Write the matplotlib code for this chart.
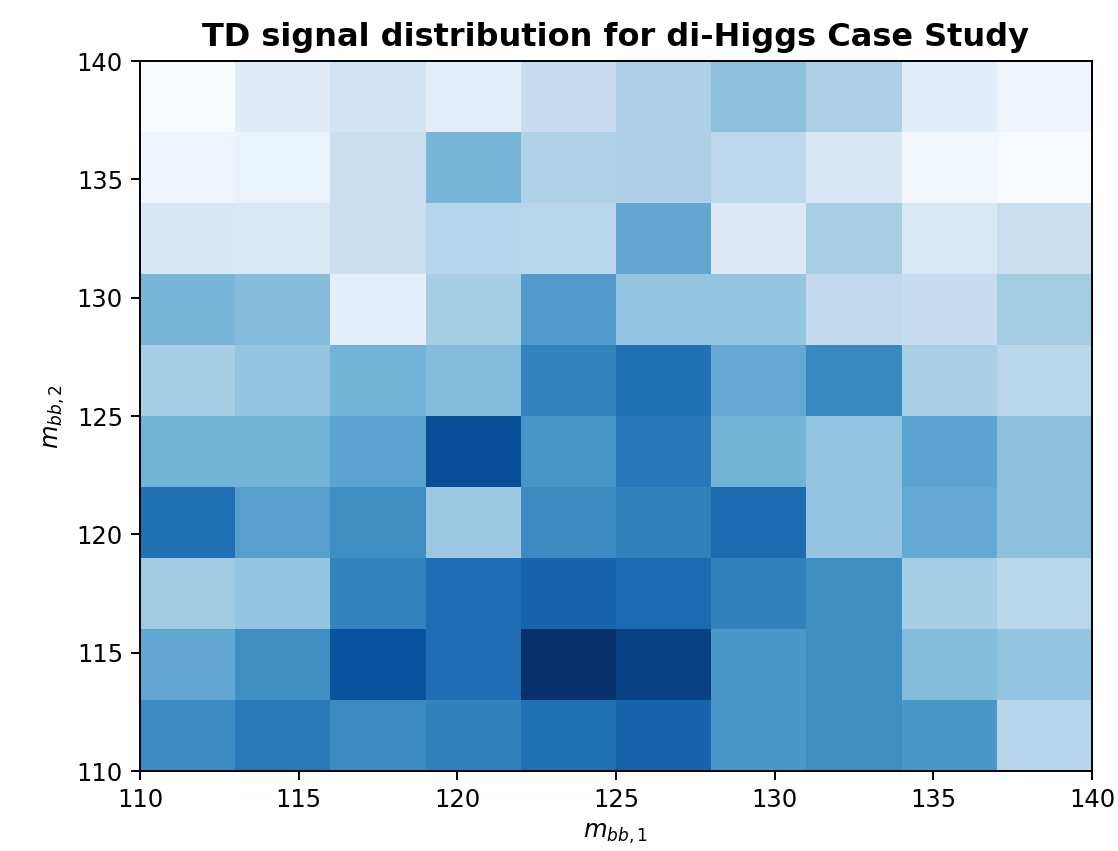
import matplotlib.pyplot as plt
import numpy as np

# bin edges for both masses
bin_edges = [110, 113, 116, 119, 122, 125, 128, 131, 134, 137, 140]

# relative signal density, rows from m_bb,2 = 110 (bottom) to 140 (top)
density = [
    [0.65, 0.72, 0.65, 0.69, 0.75, 0.80, 0.60, 0.64, 0.60, 0.30],
    [0.53, 0.64, 0.87, 0.76, 1.00, 0.93, 0.60, 0.64, 0.44, 0.40],
    [0.37, 0.40, 0.68, 0.76, 0.80, 0.77, 0.69, 0.64, 0.35, 0.29],
    [0.75, 0.56, 0.64, 0.38, 0.65, 0.69, 0.77, 0.40, 0.52, 0.42],
    [0.48, 0.48, 0.55, 0.88, 0.61, 0.73, 0.48, 0.40, 0.55, 0.42],
    [0.35, 0.40, 0.48, 0.44, 0.68, 0.75, 0.52, 0.66, 0.34, 0.29],
    [0.47, 0.43, 0.09, 0.35, 0.58, 0.40, 0.40, 0.26, 0.24, 0.36],
    [0.16, 0.15, 0.22, 0.30, 0.29, 0.53, 0.14, 0.34, 0.15, 0.23],
    [0.05, 0.07, 0.23, 0.47, 0.32, 0.33, 0.28, 0.16, 0.03, 0.00],
    [0.00, 0.12, 0.19, 0.10, 0.24, 0.33, 0.42, 0.33, 0.11, 0.05],
]

fig = plt.figure(figsize=(1118 / 175, 851 / 175), dpi=175)
ax = fig.add_axes([0.1252, 0.094, 0.8515, 0.8343])
ax.pcolormesh(bin_edges, bin_edges, np.array(density), cmap='Blues', vmin=0, vmax=1)
ax.set_xlim(110, 140)
ax.set_ylim(110, 140)
ax.set_xlabel(r'$m_{bb,1}$')
ax.set_ylabel(r'$m_{bb,2}$')
ax.set_title('TD signal distribution for di-Higgs Case Study', fontweight='bold', fontsize=13.2)

fig.savefig('out.png', dpi=175)
